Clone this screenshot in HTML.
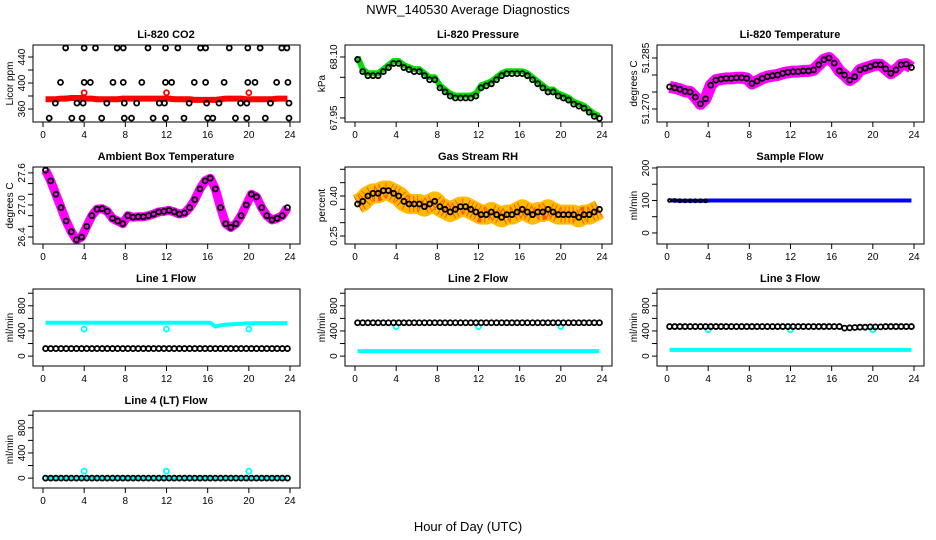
<!DOCTYPE html>
<html><head><meta charset="utf-8"><style>
body{margin:0;background:#fff}
svg{display:block;font-family:"Liberation Sans",sans-serif}
</style></head><body>
<svg id="c" width="936" height="540" xmlns="http://www.w3.org/2000/svg">
<text x="468" y="14" text-anchor="middle" font-size="13">NWR_140530  Average Diagnostics</text>
<text x="468" y="531" text-anchor="middle" font-size="13">Hour of Day (UTC)</text>
</svg>
<script>
const hours=[];for(let i=0;i<48;i++)hours.push(0.25+0.5*i);
const xTicks=[0,4,8,12,16,20,24];
const co2Red=[375,375,375,376,376,377,377,377,376,376,375,375,375,375,375,376,376,376,376,376,376,376,376,376,376,375,375,375,375,374,374,374,374,374,375,376,376,376,376,375,375,375,375,375,375,376,376,376];
const co2BlackT=[2.2,4.0,5.1,7.2,7.8,10.2,11.9,13.1,15.3,15.8,18.1,19.9,21.1,23.2,23.7,1.7,4.0,4.6,6.8,7.8,9.6,11.9,12.5,14.7,15.8,17.6,19.9,20.6,22.7,23.8,1.2,3.3,3.9,6.2,7.9,9.1,11.3,11.8,14.2,15.9,17.1,19.2,19.8,22.1,23.9,0.6,2.8,3.8,5.7,7.9,8.6,10.7,11.9,13.7,16.0,16.5,18.7,19.8,21.6,23.9];
const co2BlackV=[454,454,454,454,454,454,454,454,454,454,454,454,454,454,454,401,401,401,401,401,401,401,401,401,401,401,401,401,401,401,369,369,369,369,369,369,369,369,369,369,369,369,369,369,369,346,346,346,346,346,346,346,346,346,346,346,346,346,346,346];
const pressure=[68.10,68.07,68.06,68.06,68.06,68.07,68.08,68.09,68.09,68.08,68.075,68.07,68.07,68.06,68.05,68.05,68.03,68.02,68.01,68.005,68.005,68.005,68.005,68.01,68.03,68.035,68.04,68.05,68.06,68.065,68.065,68.065,68.065,68.06,68.05,68.04,68.03,68.02,68.02,68.01,68.005,68.0,67.99,67.985,67.98,67.97,67.96,67.955];
const liTemp=[51.2765,51.2762,51.2758,51.2752,51.2750,51.2735,51.2715,51.2730,51.2770,51.2785,51.2788,51.2790,51.2790,51.2792,51.2792,51.2790,51.2775,51.2782,51.2790,51.2795,51.2798,51.2800,51.2805,51.2808,51.2810,51.2810,51.2812,51.2812,51.2815,51.2830,51.2845,51.2850,51.2835,51.2812,51.2800,51.2785,51.2795,51.2815,51.2820,51.2825,51.2830,51.2830,51.2818,51.2805,51.2815,51.2830,51.2832,51.2822];
const ambient=[27.65,27.45,27.2,26.95,26.7,26.5,26.35,26.4,26.6,26.8,26.92,26.93,26.88,26.75,26.7,26.65,26.8,26.77,26.78,26.78,26.8,26.83,26.87,26.88,26.9,26.87,26.83,26.85,26.95,27.1,27.3,27.45,27.5,27.3,26.95,26.65,26.58,26.65,26.8,27.0,27.2,27.15,26.95,26.8,26.72,26.75,26.8,26.95];
const rh=[0.37,0.38,0.40,0.41,0.41,0.42,0.42,0.41,0.40,0.38,0.37,0.37,0.37,0.36,0.37,0.38,0.36,0.35,0.34,0.35,0.36,0.36,0.35,0.34,0.33,0.33,0.34,0.33,0.32,0.33,0.33,0.34,0.35,0.34,0.33,0.34,0.34,0.35,0.34,0.33,0.33,0.33,0.33,0.32,0.33,0.33,0.34,0.35];
const sampleFlow=[100,100,99,99,99,99,99,99,100,100,100,100,100,100,100,100,100,100,100,100,100,100,100,100,100,100,100,100,100,100,100,100,100,100,100,100,100,100,100,100,100,100,100,100,100,100,100,100];
const line1Cyan=[530,530,530,530,530,530,530,530,530,530,530,530,530,530,530,530,530,530,530,530,530,530,530,530,530,530,530,530,530,530,530,530,530,470,490,500,505,510,515,520,520,525,525,525,525,525,525,525];
const line1Black=[120,120,120,120,120,120,120,120,120,120,120,120,120,120,120,120,120,120,120,120,120,120,120,120,120,120,120,120,120,120,120,120,120,120,120,120,120,120,120,120,120,120,120,120,120,120,120,120];
const line2Black=[530,530,530,530,530,530,530,530,530,530,530,530,530,530,530,530,530,530,530,530,530,530,530,530,530,530,530,530,530,530,530,530,530,530,530,530,530,530,530,530,530,530,530,530,530,530,530,530];
const line2Cyan=[80,80,80,80,80,80,80,80,80,80,80,80,80,80,80,80,80,80,80,80,80,80,80,80,80,80,80,80,80,80,80,80,80,80,80,80,80,80,80,80,80,80,80,80,80,80,80,80];
const line3Black=[470,470,470,470,470,470,470,470,470,470,470,470,470,470,470,470,470,470,470,470,470,470,470,470,470,470,470,470,470,470,470,470,470,470,445,450,455,460,460,465,465,465,470,470,470,470,470,470];
const line3Cyan=[100,100,100,100,100,100,100,100,100,100,100,100,100,100,100,100,100,100,100,100,100,100,100,100,100,100,100,100,100,100,100,100,100,100,100,100,100,100,100,100,100,100,100,100,100,100,100,100];
const line4Black=[0,0,0,0,0,0,0,0,0,0,0,0,0,0,0,0,0,0,0,0,0,0,0,0,0,0,0,0,0,0,0,0,0,0,0,0,0,0,0,0,0,0,0,0,0,0,0,0];
const spikeT=[4,12,20];
const spikeV1=[430,430,430],spikeV2=[470,470,470],spikeV3=[420,420,420],spikeV4=[110,110,110],spikeCO2=[385,385,385];

const NS="http://www.w3.org/2000/svg",svg=document.getElementById('c');
function mk(tag,at,parent){const e=document.createElementNS(NS,tag);for(const k in at)e.setAttribute(k,at[k]);(parent||svg).appendChild(e);return e;}
const colX=[43,355,667],rowY=[45,167,289,411],H=77,XS=247/24;
function panel(name,col,row,title,ylab,ylim,ticks,labels,series){
  const g=mk('g',{});
  
  
  const x0=colX[col],top=rowY[row],bot=top+H;
  const X=t=>x0+t*XS, Y=v=>bot-(v-ylim[0])/(ylim[1]-ylim[0])*H;
  const tt=mk('text',{x:x0+123,y:top-7,'text-anchor':'middle','font-size':11,'font-weight':'bold'},g);tt.textContent=title;
  
  
  series.forEach(s=>{
    if(s.type==='band'){
      const p=mk('polyline',{points:s.t.map((t,i)=>X(t)+','+Y(s.v[i])).join(' '),fill:'none',stroke:s.c,'stroke-width':s.w,'stroke-linejoin':'round','stroke-linecap':'butt',opacity:s.o||1},g);
      
      
      if(s.dots){const q=mk('polyline',{points:s.t.map((t,i)=>X(t)+','+Y(s.v[i])).join(' '),fill:'none',stroke:s.dots,'stroke-width':s.w-4,'stroke-dasharray':'1 3','stroke-linejoin':'round'},g);
        
        }
    } else {
      s.t.forEach((t,i)=>{const c=mk('circle',{cx:X(t),cy:Y(s.v[i]),r:s.r||2.5,fill:'none',stroke:s.c,'stroke-width':1.8},g);
        
        });
    }
  });
  const b=mk('rect',{x:x0-10,y:top,width:267,height:H,fill:'none',stroke:'#000','stroke-width':1},g);
  
  
  const ax=mk('g',{},g);
  
  
  ticks.forEach(v=>{const y=Y(v);mk('line',{x1:x0-10,x2:x0-15,y1:y,y2:y,stroke:'#000'},ax);});
  mk('line',{x1:x0-10,x2:x0-10,y1:Y(ticks[0]),y2:Y(ticks[ticks.length-1]),stroke:'#000'},ax);
  labels.forEach(l=>{const y=Y(l.v);const t=mk('text',{x:0,y:0,transform:`translate(${x0-18},${y}) rotate(-90)`,'text-anchor':'middle','font-size':10},ax);t.textContent=l.s;});
  const yl=mk('text',{transform:`translate(${x0-30},${top+H/2}) rotate(-90)`,'text-anchor':'middle','font-size':10},g);yl.textContent=ylab;
  
  
  const xa=mk('g',{},g);
  
  
  mk('line',{x1:X(0),x2:X(24),y1:bot,y2:bot,stroke:'#000'},xa);
  xTicks.forEach(t=>{mk('line',{x1:X(t),x2:X(t),y1:bot,y2:bot+5,stroke:'#000'},xa);
    const tx=mk('text',{x:X(t),y:bot+16,'text-anchor':'middle','font-size':10},xa);tx.textContent=t;});
}
const L=a=>a.map(v=>({v:v,s:String(v)}));
const fl=[-157,1067],flT=[0,200,400,600,800,1000],flL=L([0,400,800]);
panel('co2',0,0,'Li-820 CO2','Licor ppm',[340,458.5],[360,380,400,420,440],L([360,400,440]),[
 {type:'band',t:hours,v:co2Red,c:'#ff0000',w:6},
 {type:'pts',t:spikeT,v:spikeCO2,c:'#ff0000'},
 {type:'pts',t:co2BlackT,v:co2BlackV,c:'#000'}]);
panel('pressure',1,0,'Li-820 Pressure','kPa',[67.94,68.1295],[67.95,68.0,68.05,68.1],[{v:67.95,s:'67.95'},{v:68.1,s:'68.10'}],[
 {type:'band',t:hours,v:pressure,c:'#00dd00',w:6},
 {type:'pts',t:hours,v:pressure.map(v=>v-0.006),c:'#000'}]);
panel('li-temp',2,0,'Li-820 Temperature','degrees C',[51.26618,51.28882],[51.27,51.275,51.28,51.285],[{v:51.27,s:'51.270'},{v:51.285,s:'51.285'}],[
 {type:'band',t:hours,v:liTemp,c:'#ff00ff',w:12},
 {type:'pts',t:hours,v:liTemp,c:'#000'}]);
panel('ambient',0,1,'Ambient Box Temperature','degrees C',[26.27,27.71],[26.4,26.6,26.8,27.0,27.2,27.4,27.6],[{v:26.4,s:'26.4'},{v:27.0,s:'27.0'},{v:27.6,s:'27.6'}],[
 {type:'band',t:hours,v:ambient,c:'#ff00ff',w:9},
 {type:'pts',t:hours,v:ambient,c:'#000'}]);
panel('gas-rh',1,1,'Gas Stream RH','percent',[0.22,0.5087],[0.25,0.3,0.35,0.4,0.45,0.5],[{v:0.25,s:'0.25'},{v:0.4,s:'0.40'}],[
 {type:'band',t:hours,v:rh,c:'#ffbb00',w:20,dots:'#ff5500'},
 {type:'pts',t:hours,v:rh,c:'#000'}]);
panel('sample-flow',2,1,'Sample Flow','ml/min',[-34,203],[0,50,100,150,200],L([0,100,200]),[
 {type:'band',t:hours,v:sampleFlow,c:'#0000ff',w:4},
 {type:'pts',t:hours.slice(0,8),v:sampleFlow.slice(0,8),c:'#000',r:1.5}]);
panel('line1-flow',0,2,'Line 1 Flow','ml/min',fl,flT,flL,[
 {type:'band',t:hours,v:line1Cyan,c:'#00ffff',w:4},
 {type:'pts',t:spikeT,v:spikeV1,c:'#00ffff'},
 {type:'pts',t:hours,v:line1Black,c:'#000'}]);
panel('line2-flow',1,2,'Line 2 Flow','ml/min',fl,flT,flL,[
 {type:'band',t:hours,v:line2Cyan,c:'#00ffff',w:4},
 {type:'pts',t:spikeT,v:spikeV2,c:'#00ffff'},
 {type:'pts',t:hours,v:line2Black,c:'#000'}]);
panel('line3-flow',2,2,'Line 3 Flow','ml/min',fl,flT,flL,[
 {type:'band',t:hours,v:line3Cyan,c:'#00ffff',w:4},
 {type:'pts',t:spikeT,v:spikeV3,c:'#00ffff'},
 {type:'pts',t:hours,v:line3Black,c:'#000'}]);
panel('line4-flow',0,3,'Line 4 (LT) Flow','ml/min',fl,flT,flL,[
 {type:'band',t:hours,v:line4Black,c:'#00ffff',w:4},
 {type:'pts',t:spikeT,v:spikeV4,c:'#00ffff'},
 {type:'pts',t:hours,v:line4Black,c:'#000'}]);
</script>
</body></html>
